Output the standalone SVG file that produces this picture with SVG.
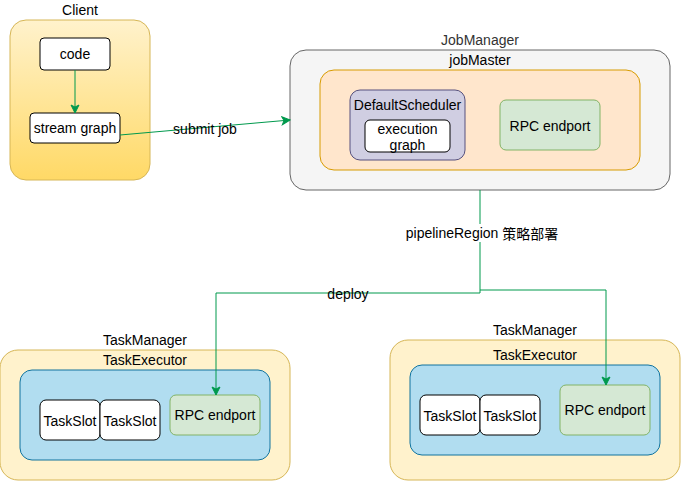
<svg xmlns="http://www.w3.org/2000/svg" width="681" height="481" viewBox="0 0 681 481">
<defs>
<linearGradient id="gClient" x1="0" y1="0" x2="0" y2="1">
<stop offset="0" stop-color="#fff2cc"/>
<stop offset="1" stop-color="#ffd966"/>
</linearGradient>
<marker id="arr" markerWidth="10" markerHeight="10" viewBox="0 0 10 10" refX="9" refY="5" orient="auto" markerUnits="userSpaceOnUse">
<path d="M1,1 L9,5 L1,9 L3,5 Z" fill="#00994d" stroke="#00994d" stroke-width="1"/>
</marker>
<style>
text{font-family:"Liberation Sans",Arial,sans-serif;font-size:14px;fill:#000;text-anchor:middle;dominant-baseline:central}
.wb{fill:#fff;stroke:#000;stroke-width:1}
.rpc{fill:#d5e8d4;stroke:#82b366;stroke-width:1}
.tm{fill:#fff2cc;stroke:#d6b656;stroke-width:1}
.te{fill:#b1ddf0;stroke:#10739e;stroke-width:1}
.edge{fill:none;stroke:#00994d;stroke-width:1}
</style>
</defs>
<rect width="681" height="481" fill="#fff"/>
<g id="client">
<rect x="10" y="20" width="140" height="160" rx="16" fill="url(#gClient)" stroke="#d6b656"/>
<text x="80" y="10">Client</text>
</g>
<g id="code">
<rect class="wb" x="40" y="38" width="70" height="32" rx="4"/>
<text x="75" y="54">code</text>
</g>
<g id="streamgraph">
<rect class="wb" x="30" y="113" width="90" height="30" rx="4"/>
<text x="75" y="128">stream graph</text>
</g>
<g id="jobmanager">
<rect x="290" y="50" width="380" height="140" rx="16" fill="#f5f5f5" stroke="#666"/>
<text x="480" y="40" style="fill:#333">JobManager</text>
</g>
<g id="jobmaster">
<text x="480" y="60">jobMaster</text>
<rect x="320" y="70" width="320" height="100" rx="14" fill="#ffe6cc" stroke="#d79b00"/>
</g>
<g id="scheduler">
<rect x="350" y="90" width="115" height="70" rx="10" fill="#d0cee2" stroke="#56517e"/>
<text x="407.5" y="105">DefaultScheduler</text>
</g>
<g id="execgraph">
<rect class="wb" x="365" y="120" width="85" height="32" rx="5"/>
<text x="407.5" y="129">execution</text>
<text x="407.5" y="145">graph</text>
</g>
<g id="rpc-jm">
<rect class="rpc" x="500" y="100" width="100" height="50" rx="6"/>
<text x="550" y="126">RPC endport</text>
</g>
<g id="tm-left">
<rect class="tm" x="0" y="350" width="290" height="130" rx="18"/>
<text x="145" y="340">TaskManager</text>
<text x="145" y="360">TaskExecutor</text>
<rect class="te" x="20" y="370" width="250" height="90" rx="12"/>
</g>
<g id="slot-l1">
<rect class="wb" x="40" y="400" width="60" height="40" rx="6"/>
<text x="70" y="421">TaskSlot</text>
</g>
<g id="slot-l2">
<rect class="wb" x="100" y="400" width="60" height="40" rx="6"/>
<text x="130" y="421">TaskSlot</text>
</g>
<g id="rpc-l">
<rect class="rpc" x="170" y="395" width="90" height="40" rx="6"/>
<text x="215" y="415">RPC endport</text>
</g>
<g id="tm-right">
<rect class="tm" x="390" y="340" width="290" height="140" rx="18"/>
<text x="535" y="330">TaskManager</text>
<text x="535" y="355">TaskExecutor</text>
<rect class="te" x="410" y="365" width="250" height="90" rx="12"/>
</g>
<g id="slot-r1">
<rect class="wb" x="420" y="395" width="60" height="40" rx="6"/>
<text x="450" y="416">TaskSlot</text>
</g>
<g id="slot-r2">
<rect class="wb" x="480" y="395" width="60" height="40" rx="6"/>
<text x="510" y="416">TaskSlot</text>
</g>
<g id="rpc-r">
<rect class="rpc" x="560" y="385" width="90" height="50" rx="6"/>
<text x="605" y="410">RPC endport</text>
</g>
<g id="connectors">
<path class="edge" d="M75,70 L75,113" marker-end="url(#arr)"/>
<path class="edge" d="M120,135 L290,120" marker-end="url(#arr)"/>
<text x="205" y="129">submit job</text>
<path class="edge" d="M480,190 L480,293 L216,293 L216,395" marker-end="url(#arr)"/>
<path class="edge" d="M480,290 L606,290 L606,385" marker-end="url(#arr)"/>
<rect x="405" y="224" width="154" height="18" fill="#fff"/>
<text x="482" y="233">pipelineRegion <tspan style="font-family:'Noto Sans CJK SC',sans-serif">策略部署</tspan></text>
<text x="348" y="294">deploy</text>
</g>
</svg>
